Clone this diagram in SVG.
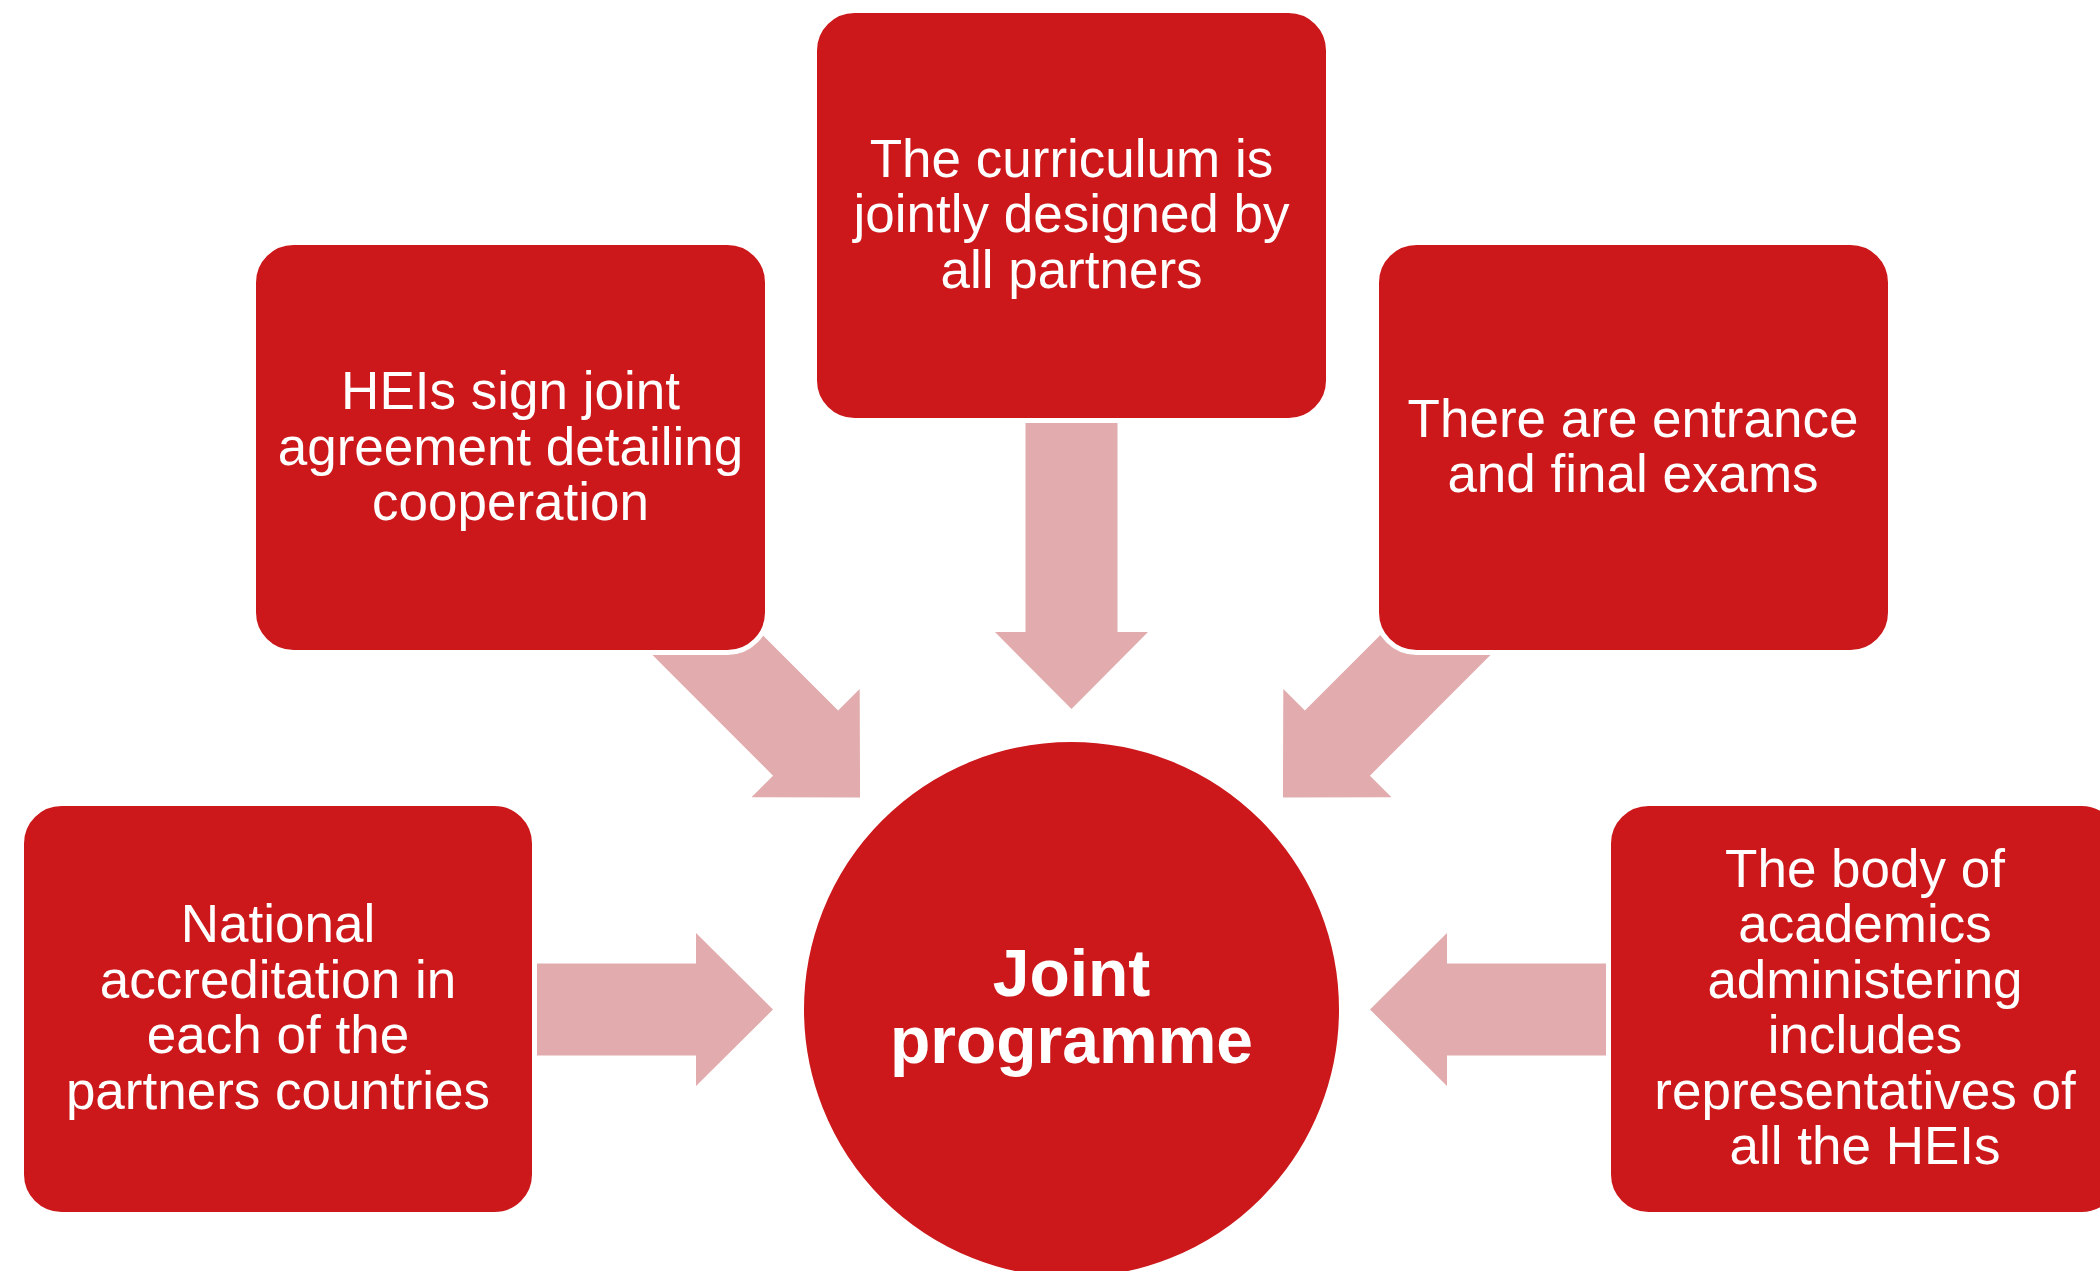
<svg xmlns="http://www.w3.org/2000/svg" xmlns:xlink="http://www.w3.org/1999/xlink" width="2100" height="1271" viewBox="0 0 2100 1271">
  <style>
    .box { fill: #CC181B; stroke: #FFFFFF; stroke-width: 5; }
    .arrow { fill: #E2ABAD; }
    .lbl { font-family: "Liberation Sans", Arial, sans-serif; font-size: 53px; fill: #FFFFFF; text-anchor: middle; }
    .hub { font-family: "Liberation Sans", Arial, sans-serif; font-size: 66px; font-weight: bold; fill: #FFFFFF; text-anchor: middle; }
  </style>
  <defs>
    <polygon id="arrowShape" points="-250,-46 0,-46 0,-76.5 77,0 0,76.5 0,46 -250,46"/>
  </defs>
  <rect width="2100" height="1271" fill="#FFFFFF"/>

  <g id="connectors" class="arrow">
    <use xlink:href="#arrowShape" href="#arrowShape" transform="translate(1071.5,632) rotate(90)"/>
    <use xlink:href="#arrowShape" href="#arrowShape" transform="translate(805.6,743.1) rotate(45)"/>
    <use xlink:href="#arrowShape" href="#arrowShape" transform="translate(1337.4,743.1) rotate(135)"/>
    <use xlink:href="#arrowShape" href="#arrowShape" transform="translate(696,1009.5)"/>
    <use xlink:href="#arrowShape" href="#arrowShape" transform="translate(1447,1009.5) rotate(180)"/>
  </g>

  <g id="node-curriculum">
    <rect class="box" x="814.5" y="10.5" width="514" height="410" rx="40" ry="40"/>
    <text class="lbl" x="1071.5" y="176.5">The curriculum is</text>
    <text class="lbl" x="1071.5" y="232">jointly designed by</text>
    <text class="lbl" x="1071.5" y="287.5">all partners</text>
  </g>

  <g id="node-agreement">
    <rect class="box" x="253.5" y="242.5" width="514" height="410" rx="40" ry="40"/>
    <text class="lbl" x="510.5" y="409">HEIs sign joint</text>
    <text class="lbl" x="510.5" y="464.5">agreement detailing</text>
    <text class="lbl" x="510.5" y="520">cooperation</text>
  </g>

  <g id="node-exams">
    <rect class="box" x="1376.5" y="242.5" width="514" height="410" rx="40" ry="40"/>
    <text class="lbl" x="1633" y="436.7">There are entrance</text>
    <text class="lbl" x="1633" y="492.3">and final exams</text>
  </g>

  <g id="node-accreditation">
    <rect class="box" x="21.5" y="803.5" width="513" height="411" rx="40" ry="40"/>
    <text class="lbl" x="278" y="942">National</text>
    <text class="lbl" x="278" y="997.5">accreditation in</text>
    <text class="lbl" x="278" y="1053">each of the</text>
    <text class="lbl" x="278" y="1108.5">partners countries</text>
  </g>

  <g id="node-body">
    <rect class="box" x="1608.5" y="803.5" width="513" height="411" rx="40" ry="40"/>
    <text class="lbl" x="1865" y="886.5">The body of</text>
    <text class="lbl" x="1865" y="942">academics</text>
    <text class="lbl" x="1865" y="997.5">administering</text>
    <text class="lbl" x="1865" y="1053">includes</text>
    <text class="lbl" x="1865" y="1108.5">representatives of</text>
    <text class="lbl" x="1865" y="1164">all the HEIs</text>
  </g>

  <g id="node-joint-programme">
    <circle class="box" cx="1071.5" cy="1009.5" r="270"/>
    <text class="hub" x="1071.5" y="996">Joint</text>
    <text class="hub" x="1071.5" y="1062.5">programme</text>
  </g>
</svg>
